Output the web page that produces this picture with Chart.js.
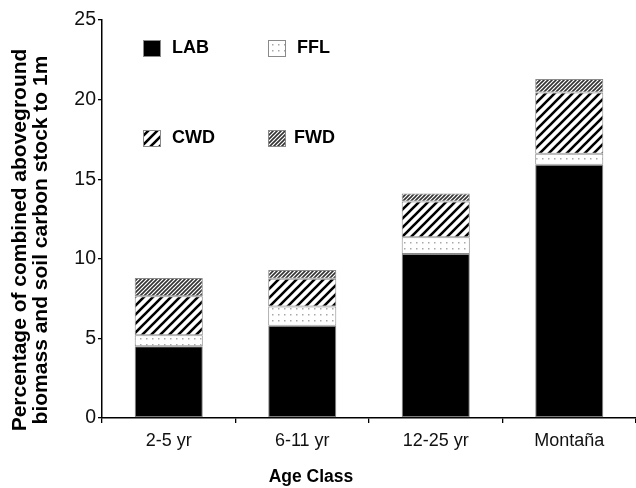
<!DOCTYPE html>
<html>
<head>
<meta charset="utf-8">
<script src="https://cdn.jsdelivr.net/npm/chart.js@4"></script>
<style>
html,body{margin:0;padding:0;background:#fff;}
#wrap{width:636px;height:488px;}
</style>
</head>
<body>
<div id="wrap"><canvas id="c" width="636" height="488"></canvas></div>
<script>
const categories = ["2-5 yr", "6-11 yr", "12-25 yr", "Montaña"];
const seriesNames = ["LAB", "FFL", "CWD", "FWD"];
const labValues = [4.5, 5.8, 10.3, 15.9];
const fflValues = [0.7, 1.2, 1.05, 0.7];
const cwdValues = [2.45, 1.75, 2.25, 3.85];
const fwdValues = [1.15, 0.55, 0.5, 0.85];
const yTicks = [0, 5, 10, 15, 20, 25];
const yTitleLines = ["Percentage of combined aboveground", "biomass and soil carbon stock to 1m"];
const xTitle = "Age Class";

const FONT = '"Liberation Sans", Arial, sans-serif';

function makePattern(kind) {
  const c = document.createElement('canvas');
  const ctx = c.getContext('2d');
  if (kind === 'dots') {
    c.width = 6; c.height = 6;
    ctx.fillStyle = '#fff'; ctx.fillRect(0, 0, 6, 6);
    ctx.fillStyle = '#a8a8a8';
    ctx.fillRect(2, 2, 1.5, 1.5);
  } else if (kind === 'wide') {
    const s = 9;
    c.width = s; c.height = s;
    ctx.fillStyle = '#fff'; ctx.fillRect(0, 0, s, s);
    ctx.strokeStyle = '#000'; ctx.lineWidth = 2.6;
    ctx.beginPath();
    ctx.moveTo(-1, s + 1); ctx.lineTo(s + 1, -1);
    ctx.moveTo(-1, 1); ctx.lineTo(1, -1);
    ctx.moveTo(s - 1, s + 1); ctx.lineTo(s + 1, s - 1);
    ctx.stroke();
  } else if (kind === 'fine') {
    const s = 4;
    c.width = s; c.height = s;
    ctx.fillStyle = '#fff'; ctx.fillRect(0, 0, s, s);
    ctx.strokeStyle = '#333'; ctx.lineWidth = 1.6;
    ctx.beginPath();
    ctx.moveTo(-1, s + 1); ctx.lineTo(s + 1, -1);
    ctx.moveTo(-1, 1); ctx.lineTo(1, -1);
    ctx.moveTo(s - 1, s + 1); ctx.lineTo(s + 1, s - 1);
    ctx.stroke();
  }
  return document.getElementById('c').getContext('2d').createPattern(c, 'repeat');
}

const fills = ['#000000', makePattern('dots'), makePattern('wide'), makePattern('fine')];
const valueSets = [labValues, fflValues, cwdValues, fwdValues];

const datasets = seriesNames.map((n, i) => ({
  label: n,
  data: valueSets[i],
  backgroundColor: fills[i],
  borderColor: '#8a8a8a',
  borderWidth: 1,
  borderSkipped: false,
  categoryPercentage: 1.0,
  barPercentage: 0.51
}));

const legendPos = [[143, 40, 172], [268, 40, 297], [143, 130, 172], [268, 130, 294]];
const legendPlugin = {
  id: 'customLegend',
  afterDatasetsDraw(chart) {
    const ctx = chart.ctx;
    ctx.save();
    chart.data.datasets.forEach((ds, i) => {
      const [x, y, tx] = legendPos[i];
      ctx.fillStyle = ds.backgroundColor;
      ctx.fillRect(x, y, 18, 17);
      ctx.strokeStyle = '#8a8a8a';
      ctx.lineWidth = 1;
      ctx.strokeRect(x + 0.5, y + 0.5, 17, 16);
      ctx.fillStyle = '#000';
      ctx.font = 'bold 18px ' + FONT;
      ctx.textBaseline = 'middle';
      ctx.textAlign = 'left';
      ctx.fillText(ds.label, tx, y + 8.5);
    });
    ctx.restore();
  }
};

const titlePlugin = {
  id: 'axisTitles',
  afterDraw(chart) {
    const ctx = chart.ctx;
    ctx.save();
    ctx.fillStyle = '#000';
    ctx.font = 'bold 17.5px ' + FONT;
    ctx.textAlign = 'center';
    ctx.textBaseline = 'middle';
    ctx.fillText(xTitle, 311, 477);
    ctx.font = 'bold 21px ' + FONT;
    yTitleLines.forEach((t, i) => {
      ctx.save();
      ctx.translate(20 + i * 21, 240);
      ctx.rotate(-Math.PI / 2);
      ctx.fillText(t, 0, 0);
      ctx.restore();
    });
    ctx.restore();
  }
};

new Chart(document.getElementById('c'), {
  type: 'bar',
  data: { labels: categories, datasets: datasets },
  options: {
    responsive: false,
    animation: false,
    layout: { padding: { top: 20, left: 0, right: 0, bottom: 0 } },
    plugins: { legend: { display: false }, tooltip: { enabled: false } },
    scales: {
      x: {
        stacked: true,
        offset: true,
        grid: { display: true, offset: true, drawOnChartArea: false, drawTicks: true, tickLength: 5, color: '#000', lineWidth: 1.3 },
        border: { display: true, color: '#000', width: 1.5 },
        ticks: { color: '#111', font: { size: 18, family: FONT }, padding: 7 },
        afterFit(scale) { scale.height = 70; }
      },
      y: {
        stacked: true,
        min: 0, max: 25,
        afterBuildTicks(scale) { scale.ticks = yTicks.map(v => ({ value: v })); },
        grid: { display: true, drawOnChartArea: false, drawTicks: true, tickLength: 4, color: '#000', lineWidth: 1.3 },
        border: { display: true, color: '#000', width: 1.5 },
        ticks: { color: '#111', font: { size: 19.5, family: FONT }, padding: 2 },
        afterFit(scale) { scale.width = 102; }
      }
    }
  },
  plugins: [legendPlugin, titlePlugin]
});
</script>
</body>
</html>
